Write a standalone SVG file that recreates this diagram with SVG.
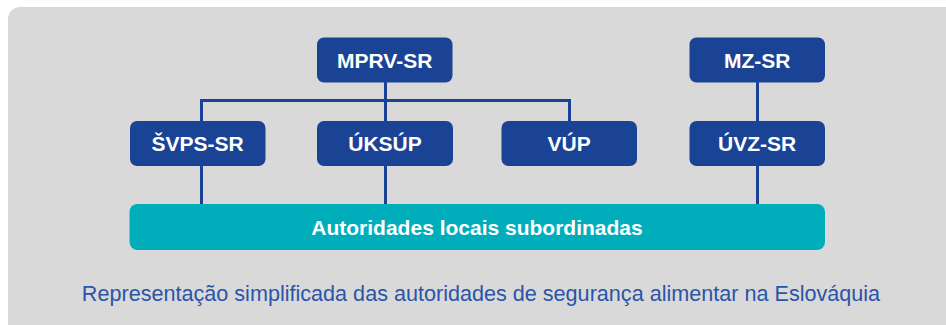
<svg xmlns="http://www.w3.org/2000/svg" width="946" height="325" viewBox="0 0 946 325">
<style>
.node{fill:#1a4396;}
.nt{font-family:"Liberation Sans",Arial,sans-serif;font-weight:bold;font-size:21px;fill:#ffffff;text-anchor:middle;}
.conn{stroke:#1a4396;stroke-width:3;fill:none;}
.cap{font-family:"Liberation Sans",Arial,sans-serif;font-size:21.6px;fill:#2a55a8;text-anchor:middle;}
</style>
<rect x="0" y="0" width="946" height="325" fill="#ffffff"/>
<rect x="8" y="7" width="960" height="340" rx="12" fill="#d9d9d9"/>
<g id="connectors">
<polyline class="conn" points="201.5,121 201.5,100.5 569.5,100.5 569.5,121"/>
<line class="conn" x1="385.5" y1="82" x2="385.5" y2="121"/>
<line class="conn" x1="201.5" y1="166" x2="201.5" y2="204"/>
<line class="conn" x1="385.5" y1="166" x2="385.5" y2="204"/>
<line class="conn" x1="757.5" y1="82" x2="757.5" y2="121"/>
<line class="conn" x1="757.5" y1="166" x2="757.5" y2="204"/>
</g>
<g id="mprv-sr"><rect class="node" x="317" y="37.5" width="135.5" height="45" rx="7"/><text class="nt" x="384.7" y="67.7">MPRV-SR</text></g>
<g id="mz-sr"><rect class="node" x="689.5" y="37.5" width="135.5" height="45" rx="7"/><text class="nt" x="757.2" y="67.7">MZ-SR</text></g>
<g id="svps-sr"><rect class="node" x="130" y="121" width="135.5" height="45" rx="7"/><text class="nt" x="197.7" y="151">ŠVPS-SR</text></g>
<g id="ukssup"><rect class="node" x="317" y="121" width="136" height="45" rx="7"/><text class="nt" x="385" y="151">ÚKSÚP</text></g>
<g id="vup"><rect class="node" x="501.5" y="121" width="135.5" height="45" rx="7"/><text class="nt" x="569.2" y="151">VÚP</text></g>
<g id="uvz-sr"><rect class="node" x="689.5" y="121" width="135.5" height="45" rx="7"/><text class="nt" x="757.2" y="151">ÚVZ-SR</text></g>
<g id="autoridades"><rect x="129.5" y="204" width="695.5" height="46" rx="8" fill="#00aebb"/><text class="nt" x="477" y="235">Autoridades locais subordinadas</text></g>
<text class="cap" x="481" y="301">Representação simplificada das autoridades de segurança alimentar na Eslováquia</text>
</svg>
